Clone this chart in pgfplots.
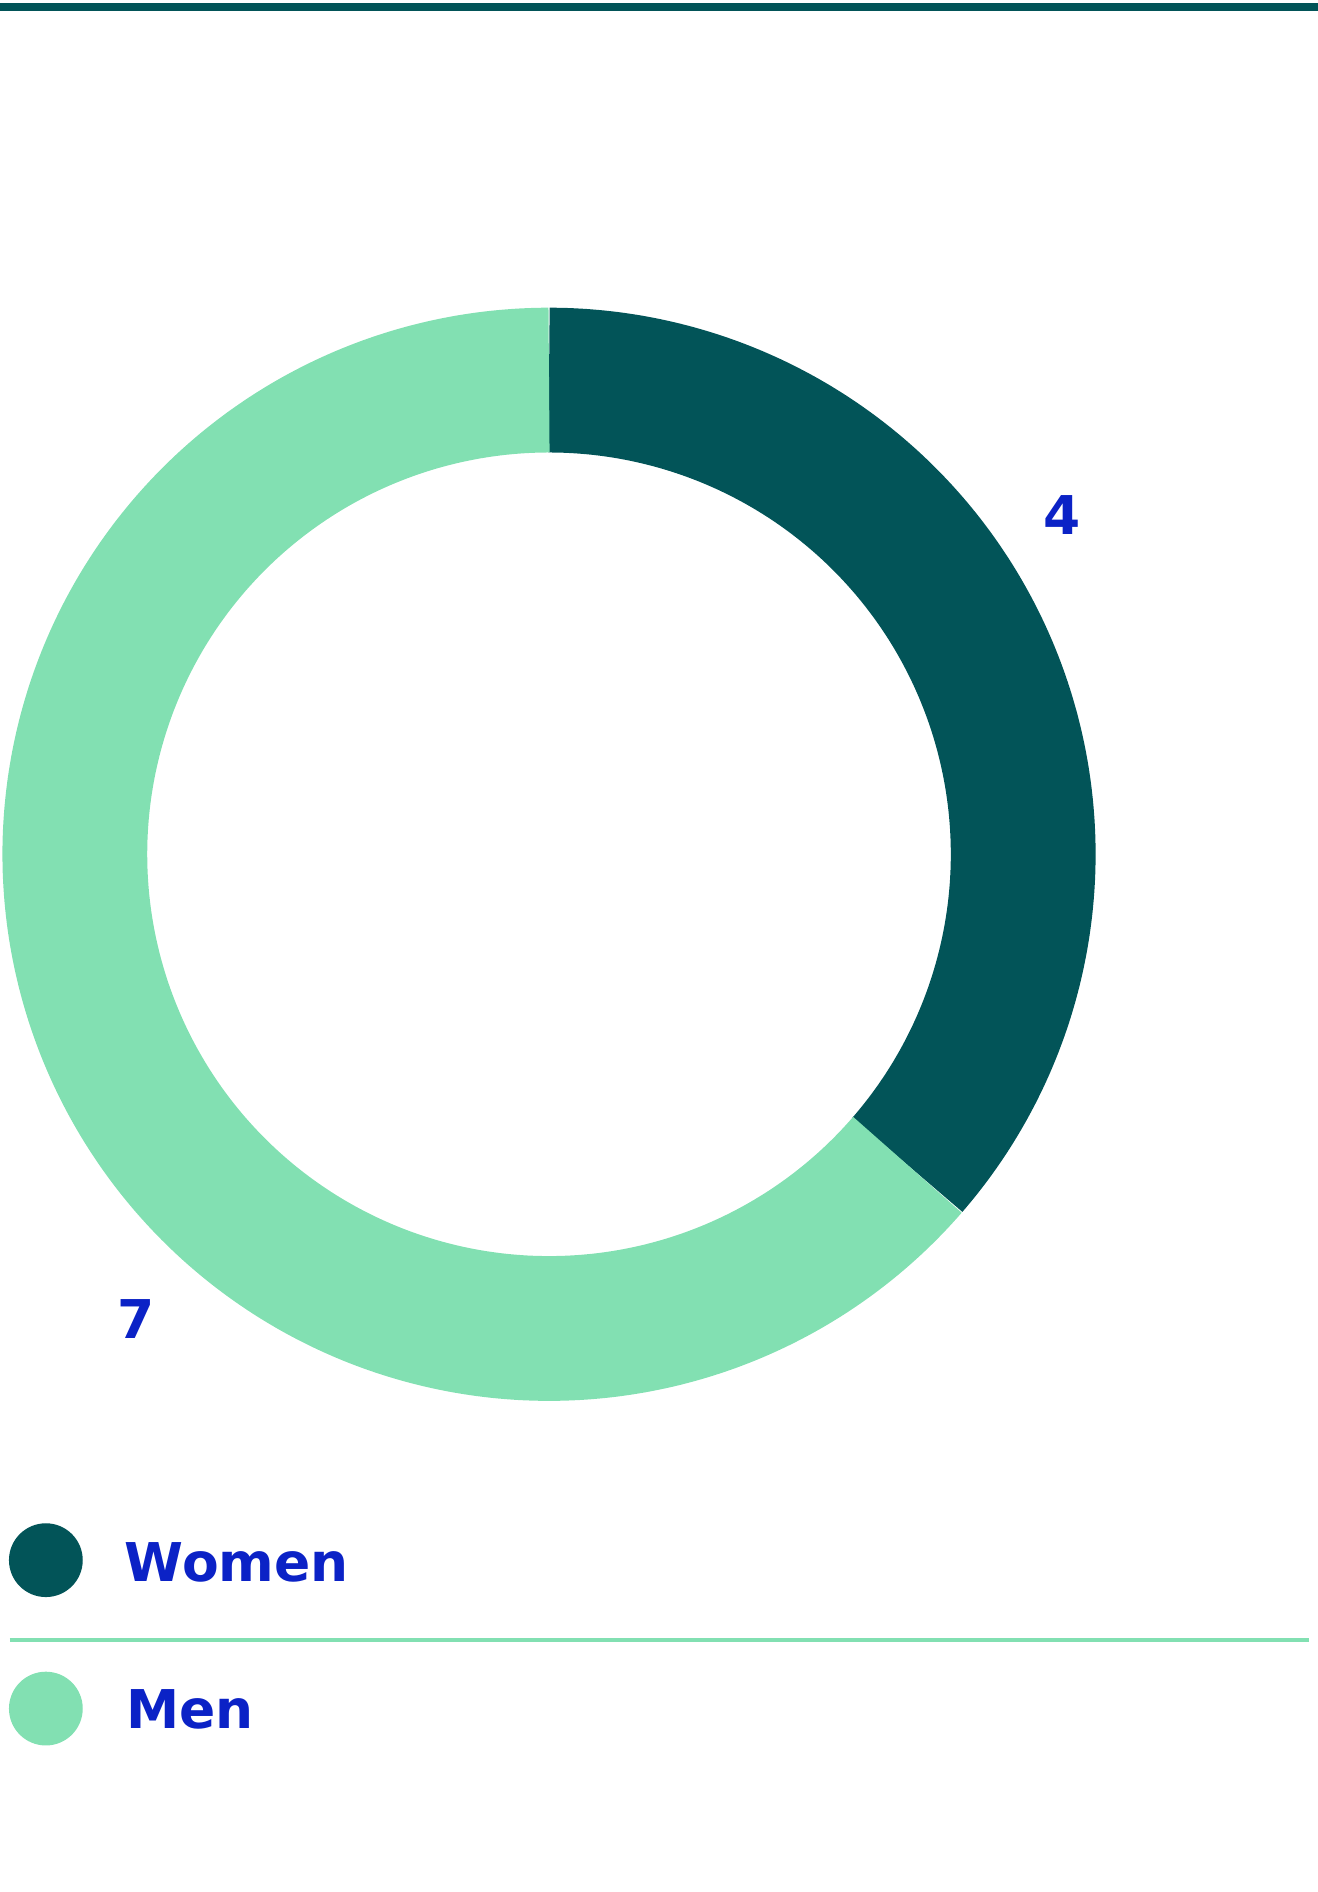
\documentclass[border=0pt]{standalone}
\usepackage{pgfplots}
\pgfplotsset{compat=1.18}
\usepackage{fontspec}
\setmainfont{DejaVu Sans}

\definecolor{darkteal}{HTML}{025458}
\definecolor{mint}{HTML}{82E0B2}
\definecolor{labelblue}{HTML}{0B22C6}

% values
\def\nWomen{4}
\def\nMen{7}
\pgfmathsetmacro\aSplit{90-360*\nWomen/(\nWomen+\nMen)}

\begin{document}
\begin{tikzpicture}
\begin{axis}[
    hide axis,
    scale only axis,
    width=382.2pt,
    height=548.8pt,
    xmin=-455, xmax=637,
    ymin=-860, ymax=708,
    clip=false,
]
\path (axis cs:-455,-860) rectangle (axis cs:637,708);
% top rule
\draw[overlay, darkteal, line width=2.3pt] (axis cs:-455,702.5) -- (axis cs:637,702.5);

% donut ring
\addplot[data cs=polar, domain=90:\aSplit, samples=200, line width=42pt, draw=darkteal] ({x},{393});
\addplot[data cs=polar, domain=\aSplit:-270, samples=300, line width=42pt, draw=mint] ({x},{393});

% value labels
\node[labelblue, font=\fontsize{15.5}{19}\selectfont\bfseries] at (axis cs:425,281) {\nWomen};
\node[labelblue, font=\fontsize{15.5}{19}\selectfont\bfseries] at (axis cs:-342,-385) {\nMen};

% legend
\addplot[only marks, mark=*, mark size=10.5pt, darkteal] coordinates {(-417,-585)};
\addplot[only marks, mark=*, mark size=10.5pt, mint] coordinates {(-417,-708)};
\node[anchor=west, inner sep=0pt, labelblue, font=\fontsize{15.5}{19}\selectfont\bfseries] at (axis cs:-352,-587) {Women};
\node[anchor=west, inner sep=0pt, labelblue, font=\fontsize{15.5}{19}\selectfont\bfseries] at (axis cs:-351,-709) {Men};
\draw[overlay, mint, line width=1.2pt] (axis cs:-447,-651) -- (axis cs:630,-651);
\end{axis}
\end{tikzpicture}
\end{document}
